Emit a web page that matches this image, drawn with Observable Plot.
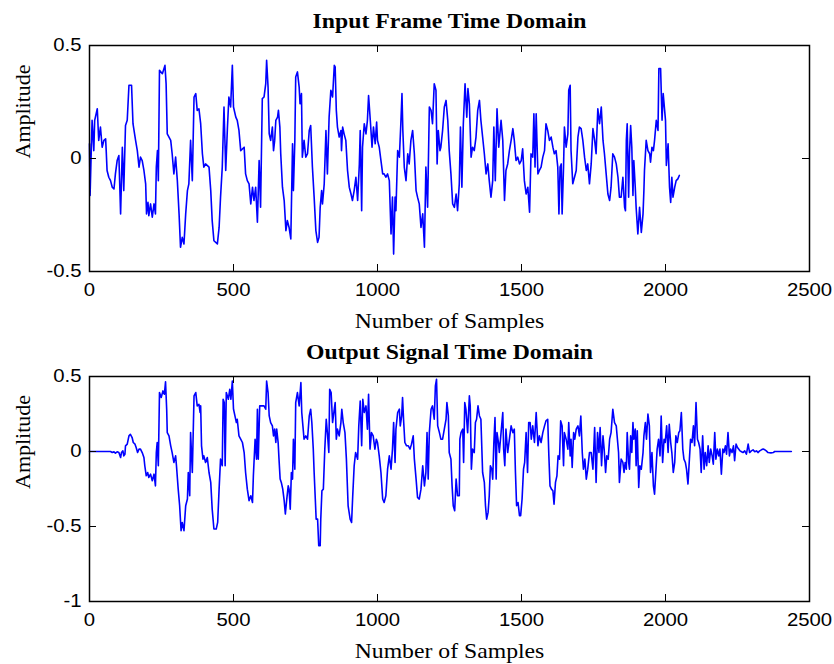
<!DOCTYPE html>
<html><head><meta charset="utf-8">
<script src="https://cdn.jsdelivr.net/npm/d3@7"></script>
<script src="https://cdn.jsdelivr.net/npm/@observablehq/plot@0.6"></script>
<style>
body{margin:0;background:#fff;}
#chart{width:834px;height:664px;position:relative;background:#fff;}
#chart svg{display:block;}
</style></head><body><div id="chart"></div>
<script>
const xTicks = [0, 500, 1000, 1500, 2000, 2500];
const inputYTicks = [-0.5, 0, 0.5];
const outputYTicks = [-1, -0.5, 0, 0.5];
const inputTitle = "Input Frame Time Domain";
const outputTitle = "Output Signal Time Domain";
const xLabel = "Number of Samples";
const yLabel = "Amplitude";

// [sample index, amplitude]
const inputSignal = [
[0,0.065],[2,-0.164],[9,0.169],[15,0.035],[18,0.169],[27,0.220],[32,0.080],[38,0.139],[44,0.050],[50,0.080],
[56,0.087],[58,0.035],[61,-0.053],[67,-0.083],[73,-0.098],[79,-0.127],[85,-0.135],[90,-0.068],[96,-0.009],[102,0.013],
[108,-0.245],[114,0.050],[119,-0.142],[125,0.146],[131,0.169],[137,0.324],[146,0.324],[151,0.154],[160,0.080],[166,0.035],
[172,-0.038],[177,0.006],[183,-0.009],[189,-0.053],[195,-0.112],[198,-0.245],[203,-0.194],[206,-0.253],[212,-0.201],[218,-0.260],
[224,-0.201],[229,-0.245],[232,-0.038],[236,0.035],[239,-0.098],[243,0.390],[253,0.375],[262,0.412],[266,0.331],[270,0.109],
[282,0.080],[287,0.021],[293,-0.068],[299,0.006],[305,-0.098],[311,-0.245],[316,-0.393],[322,-0.349],[328,-0.378],[334,-0.245],
[340,-0.142],[345,-0.112],[351,0.080],[357,-0.098],[363,0.272],[369,0.287],[374,0.213],[380,0.220],[386,0.154],[392,0.021],
[397,-0.038],[403,-0.024],[415,-0.038],[421,-0.142],[426,-0.275],[432,-0.364],[444,-0.378],[450,-0.305],[455,-0.171],[461,-0.038],
[467,0.228],[473,-0.053],[479,0.139],[484,0.272],[490,0.228],[496,0.412],[500,0.228],[508,0.183],[513,0.169],[519,0.124],
[525,0.035],[537,0.050],[542,-0.068],[548,-0.098],[554,-0.112],[560,-0.201],[566,-0.127],[571,-0.186],[577,-0.127],[583,-0.282],
[589,-0.009],[594,-0.216],[600,0.265],[606,0.272],[612,0.331],[615,0.435],[620,0.316],[624,0.109],[629,0.080],[635,0.139],
[639,0.035],[643,0.080],[647,0.169],[653,0.183],[656,0.213],[661,0.139],[664,0.021],[670,-0.127],[676,-0.186],[682,-0.319],
[687,-0.275],[693,-0.305],[699,-0.356],[705,0.065],[708,-0.142],[713,0.080],[716,0.361],[722,0.383],[728,0.316],[731,0.242],
[736,0.287],[739,0.006],[745,0.080],[751,0.006],[757,0.021],[763,0.124],[768,0.146],[774,-0.038],[780,-0.171],[786,-0.319],
[792,-0.371],[797,-0.349],[801,-0.216],[806,-0.142],[809,-0.201],[815,-0.112],[821,0.124],[826,-0.068],[832,0.183],[838,0.302],
[844,0.272],[850,0.412],[853,0.405],[857,0.213],[861,0.139],[867,0.095],[873,0.124],[875,0.035],[879,0.139],[884,0.109],
[890,0.080],[896,-0.053],[902,-0.127],[908,-0.157],[913,-0.186],[919,-0.142],[925,-0.083],[931,-0.186],[937,-0.024],[940,0.124],
[945,-0.231],[948,0.050],[954,0.154],[960,0.109],[965,0.169],[969,0.279],[975,0.169],[981,0.050],[986,0.139],[992,0.065],
[997,0.161],[1000,0.080],[1006,0.050],[1012,-0.009],[1018,-0.068],[1023,-0.068],[1029,-0.083],[1035,-0.068],[1041,-0.098],[1047,-0.334],
[1052,-0.171],[1056,-0.423],[1061,-0.171],[1064,-0.231],[1070,0.035],[1076,0.006],[1081,0.154],[1085,0.287],[1088,0.124],[1093,-0.038],
[1099,-0.098],[1105,0.021],[1110,-0.024],[1116,0.080],[1122,0.124],[1128,0.021],[1134,-0.142],[1139,-0.171],[1145,-0.201],[1151,-0.305],
[1157,-0.245],[1163,-0.393],[1168,-0.038],[1174,-0.216],[1180,0.228],[1186,0.213],[1191,0.154],[1197,0.331],[1203,0.302],[1207,-0.024],
[1211,0.124],[1217,0.035],[1220,0.050],[1226,0.124],[1232,0.228],[1238,0.257],[1244,0.169],[1249,0.035],[1255,-0.068],[1261,-0.201],
[1267,-0.216],[1273,-0.157],[1278,-0.231],[1284,-0.112],[1288,0.139],[1293,-0.127],[1298,0.154],[1304,0.331],[1310,0.183],[1314,0.309],
[1319,0.242],[1325,0.006],[1330,0.050],[1336,0.035],[1342,0.095],[1348,0.213],[1354,0.257],[1359,0.169],[1365,0.095],[1371,0.021],
[1377,-0.068],[1383,-0.024],[1388,-0.098],[1394,-0.171],[1400,-0.098],[1404,0.139],[1409,-0.098],[1415,0.220],[1421,0.050],[1429,0.169],
[1435,0.080],[1441,-0.186],[1446,-0.053],[1452,-0.024],[1458,0.035],[1464,0.080],[1470,0.132],[1475,0.080],[1481,-0.009],[1487,0.006],
[1493,-0.024],[1499,-0.009],[1504,0.043],[1510,-0.098],[1516,-0.157],[1522,-0.127],[1528,-0.238],[1533,0.021],[1539,0.006],[1543,0.198],
[1547,-0.038],[1551,0.198],[1557,-0.068],[1562,-0.053],[1568,-0.038],[1574,0.006],[1580,0.035],[1585,0.154],[1591,0.124],[1597,0.080],
[1603,0.095],[1609,0.050],[1614,0.021],[1620,0.035],[1626,-0.038],[1630,-0.245],[1634,-0.038],[1638,-0.024],[1641,-0.245],[1646,-0.038],
[1649,0.139],[1655,0.050],[1661,0.109],[1664,0.302],[1669,0.324],[1672,0.035],[1678,-0.112],[1684,-0.083],[1690,-0.053],[1696,0.095],
[1701,0.139],[1707,0.132],[1713,0.080],[1719,0.006],[1725,-0.053],[1730,-0.024],[1736,-0.112],[1742,-0.024],[1748,0.132],[1754,0.080],
[1759,0.021],[1765,0.220],[1771,0.154],[1777,0.228],[1783,0.080],[1788,0.021],[1794,-0.068],[1800,-0.157],[1806,-0.186],[1811,-0.127],
[1817,0.021],[1823,0.006],[1829,-0.024],[1835,-0.083],[1840,-0.171],[1846,-0.171],[1852,-0.083],[1858,-0.216],[1861,-0.231],[1864,0.080],
[1867,0.154],[1872,-0.171],[1875,0.021],[1879,0.146],[1883,0.050],[1887,-0.164],[1890,-0.009],[1895,-0.127],[1898,-0.216],[1904,-0.334],
[1910,-0.216],[1916,-0.327],[1922,-0.245],[1925,-0.142],[1927,-0.053],[1933,0.080],[1939,0.035],[1945,0.021],[1948,-0.016],[1953,0.050],
[1958,0.035],[1962,0.080],[1968,0.169],[1974,0.124],[1977,0.398],[1983,0.398],[1988,0.169],[1992,0.287],[1997,0.213],[2000,0.169],
[2003,-0.031],[2009,0.065],[2014,-0.127],[2018,-0.194],[2022,-0.083],[2026,-0.171],[2032,-0.127],[2037,-0.098],[2043,-0.090],[2048,-0.075]
];

const outputSignal = [
[0,0],[73,0],[79,-0.007],[85,-0.002],[90,-0.011],[96,-0.002],[102,-0.007],[108,-0.040],[111,-0.007],[116,0.004],
[119,-0.029],[123,-0.018],[125,0.038],[131,0.049],[137,0.104],[142,0.115],[148,0.093],[152,0.060],[158,0.049],[162,0.027],
[167,-0.007],[172,0.016],[177,0.016],[183,-0.007],[189,-0.040],[192,-0.095],[197,-0.162],[202,-0.140],[206,-0.173],[212,-0.151],
[218,-0.195],[224,-0.151],[229,-0.229],[232,-0.007],[235,0.060],[239,-0.095],[243,0.393],[249,0.360],[255,0.404],[260,0.382],
[264,0.464],[268,0.282],[270,0.126],[276,0.104],[282,0.038],[287,-0.007],[293,-0.073],[299,-0.029],[302,-0.095],[308,-0.251],
[313,-0.362],[318,-0.528],[322,-0.473],[328,-0.528],[334,-0.362],[340,-0.317],[343,-0.140],[348,-0.295],[351,0.126],[357,-0.140],
[363,0.371],[369,0.393],[374,0.304],[380,0.315],[384,0.260],[386,0.304],[389,0.038],[394,-0.051],[397,-0.029],[403,-0.073],
[409,-0.040],[415,-0.140],[421,-0.206],[426,-0.384],[432,-0.517],[440,-0.517],[445,-0.473],[450,-0.251],[455,-0.051],[461,-0.095],
[464,0.348],[468,0.326],[471,-0.095],[475,0.393],[482,0.348],[487,0.415],[491,0.348],[496,0.470],[500,0.282],[505,0.237],
[510,0.193],[513,0.215],[519,0.104],[525,0.082],[531,0.060],[537,-0.007],[542,-0.140],[548,-0.251],[554,-0.328],[560,-0.295],
[566,-0.340],[569,-0.162],[575,0.082],[580,-0.051],[583,0.282],[586,-0.051],[591,0.304],[598,0.304],[606,0.304],[612,0.282],
[615,0.470],[620,0.393],[624,0.237],[629,0.193],[635,0.171],[639,0.104],[643,0.149],[647,0.060],[650,0.149],[655,0.060],
[658,-0.051],[662,-0.184],[666,-0.206],[671,-0.251],[676,-0.328],[680,-0.417],[685,-0.317],[690,-0.229],[693,-0.251],[697,-0.384],
[701,-0.140],[705,-0.184],[708,0.082],[713,-0.118],[716,0.326],[722,0.393],[728,0.304],[734,0.459],[737,0.260],[741,0.171],
[745,0.082],[751,0.104],[757,0.082],[763,0.237],[768,0.282],[772,0.193],[777,0.016],[780,-0.140],[784,-0.317],[787,-0.451],
[792,-0.451],[796,-0.628],[801,-0.628],[803,-0.451],[807,-0.262],[812,-0.251],[817,0.016],[822,0.215],[826,0.126],[831,-0.007],
[834,0.415],[839,0.393],[844,0.193],[850,0.282],[853,0.326],[857,0.082],[861,0.149],[867,0.104],[873,0.193],[876,0.282],
[881,0.193],[887,0.126],[892,-0.051],[898,-0.362],[905,-0.451],[910,-0.473],[914,-0.295],[919,-0.095],[924,-0.007],[931,-0.051],
[935,0.171],[940,0.337],[945,0.038],[949,0.348],[954,0.260],[960,0.304],[965,0.149],[969,0.382],[974,0.016],[979,0.126],
[985,0.104],[991,0.016],[996,0.082],[1000,0.060],[1006,-0.029],[1012,-0.140],[1018,-0.317],[1023,-0.340],[1029,-0.295],[1035,-0.118],
[1041,-0.029],[1047,-0.118],[1052,0.016],[1056,0.193],[1061,-0.073],[1064,0.149],[1070,0.260],[1076,0.282],[1079,0.171],[1084,0.237],
[1087,0.360],[1091,0.193],[1095,0.060],[1101,0.038],[1107,0.038],[1113,0.016],[1118,0.049],[1124,0.104],[1128,-0.051],[1134,-0.184],
[1139,-0.306],[1145,-0.317],[1151,-0.251],[1157,-0.095],[1163,-0.229],[1168,-0.140],[1172,0.126],[1176,-0.184],[1180,0.126],[1186,0.282],
[1191,0.304],[1197,0.215],[1201,0.437],[1205,0.482],[1209,0.171],[1215,0.126],[1220,0.082],[1226,0.082],[1232,0.149],[1238,0.215],
[1241,0.326],[1246,0.237],[1249,-0.007],[1255,-0.051],[1259,-0.229],[1263,-0.362],[1268,-0.395],[1273,-0.184],[1278,-0.295],[1284,-0.295],
[1286,0.082],[1290,0.126],[1296,0.149],[1299,-0.073],[1303,0.326],[1307,0.282],[1313,0.126],[1319,0.371],[1322,0.304],[1326,-0.118],
[1330,0.016],[1336,-0.007],[1340,0.193],[1344,0.215],[1349,0.304],[1354,0.237],[1359,0.215],[1365,-0.140],[1371,-0.206],[1375,-0.362],
[1379,-0.451],[1384,-0.406],[1388,-0.295],[1392,-0.095],[1397,-0.118],[1400,-0.184],[1404,0.060],[1408,0.226],[1412,-0.184],[1415,0.126],
[1420,0.060],[1423,-0.007],[1429,0.126],[1435,0.260],[1438,0.016],[1442,-0.095],[1446,0.149],[1452,-0.007],[1458,0.082],[1464,0.171],
[1470,0.126],[1475,0.149],[1479,-0.140],[1483,-0.362],[1488,-0.340],[1493,-0.428],[1497,-0.428],[1502,-0.317],[1507,-0.118],[1511,-0.073],
[1516,0.126],[1521,-0.140],[1525,0.193],[1530,0.193],[1534,0.082],[1539,0.171],[1545,0.060],[1551,0.260],[1557,0.038],[1562,0.104],
[1568,0.060],[1574,0.126],[1580,0.171],[1585,0.204],[1591,0.215],[1595,-0.029],[1599,-0.229],[1604,-0.251],[1609,-0.262],[1613,-0.351],
[1618,-0.206],[1623,-0.162],[1627,-0.029],[1632,-0.051],[1636,0.204],[1641,0.171],[1646,-0.095],[1649,0.126],[1655,0.082],[1661,0.016],
[1664,0.193],[1669,-0.029],[1672,0.082],[1676,-0.107],[1681,0.126],[1685,0.082],[1690,0.149],[1696,0.171],[1701,0.104],[1706,0.237],
[1711,-0.007],[1715,-0.118],[1720,-0.051],[1725,-0.184],[1730,-0.118],[1736,-0.007],[1742,-0.007],[1748,-0.118],[1754,0.160],[1759,-0.206],
[1764,0.126],[1769,-0.007],[1773,0.160],[1778,-0.095],[1783,0.104],[1787,0.016],[1792,-0.140],[1796,-0.029],[1801,-0.051],[1806,0.082],
[1811,0.126],[1817,0.282],[1823,0.193],[1829,0.171],[1837,-0.007],[1840,-0.206],[1846,-0.051],[1852,-0.073],[1856,-0.140],[1860,-0.073],
[1864,-0.118],[1867,0.126],[1872,-0.073],[1875,-0.118],[1879,0.104],[1883,-0.007],[1887,0.193],[1890,0.082],[1895,0.149],[1898,-0.095],
[1902,0.138],[1907,-0.240],[1911,-0.095],[1916,-0.118],[1922,-0.007],[1925,0.104],[1930,0.193],[1934,0.082],[1939,0.249],[1944,0.171],
[1948,-0.140],[1953,-0.007],[1958,-0.229],[1962,-0.284],[1967,-0.118],[1971,0.016],[1976,0.082],[1981,-0.029],[1985,0.237],[1990,-0.073],
[1995,0.082],[1999,0.060],[2004,0.171],[2009,-0.007],[2013,0.182],[2018,0.060],[2022,-0.007],[2027,-0.140],[2032,-0.073],[2036,0.104],
[2041,0.060],[2046,0.126],[2050,0.138],[2055,0.260],[2060,0.016],[2064,-0.051],[2069,-0.073],[2073,-0.118],[2078,-0.217],[2083,-0.051],
[2087,0.082],[2092,0.060],[2097,0.171],[2101,0.038],[2106,0.326],[2111,0.082],[2115,0.060],[2120,0.016],[2124,-0.140],[2129,0.104],
[2134,-0.118],[2138,-0.007],[2143,-0.095],[2148,0.038],[2152,-0.073],[2157,0.016],[2162,-0.029],[2166,-0.084],[2171,0.126],[2175,-0.051],
[2180,0.016],[2185,-0.029],[2189,0.016],[2194,-0.151],[2199,0.016],[2203,-0.007],[2208,0.038],[2212,-0.018],[2217,0.126],[2222,-0.029],
[2226,0.016],[2231,-0.007],[2236,0.038],[2240,-0.062],[2245,0.049],[2250,0.027],[2254,0.016],[2259,0.004],[2264,-0.002],[2269,-0.007],
[2275,0.004],[2281,-0.018],[2287,0.049],[2292,-0.007],[2298,0.004],[2304,0.011],[2310,-0.002],[2316,0.004],[2321,-0.007],[2327,0.004],
[2333,0.011],[2339,0.016],[2345,0.011],[2350,0.004],[2356,-0.007],[2366,-0.009],[2374,-0.007],[2379,0],[2437,0]
];

const SERIF = "'Liberation Serif', 'Times New Roman', Times, serif";
const SANS = "'Liberation Sans', Arial, Helvetica, sans-serif";
const STRETCH = 1.13;

function panel({signal, yDomain, yTicks, title, marginTop, marginBottom}) {
  const W = 834, H = 332, mL = 89, mR = 25, tick = 7;
  const fw = W - mL - mR, fh = H - marginTop - marginBottom;
  const data = signal.map(([s, a]) => ({s, a}));
  const svg = Plot.plot({
    width: W, height: H,
    marginLeft: mL, marginRight: mR, marginTop, marginBottom,
    style: {fontFamily: SANS, fontSize: "18px", color: "black", background: "white"},
    x: {domain: [0, 2500], ticks: xTicks, label: null},
    y: {domain: yDomain, ticks: yTicks, label: null},
    marks: [
      Plot.line(data, {x: "s", y: "a", stroke: "#0000ff", strokeWidth: 1.6}),
      Plot.tickX(xTicks, {x: d => d, stroke: "black", insetTop: fh - tick}),
      Plot.tickX(xTicks, {x: d => d, stroke: "black", insetBottom: fh - tick}),
      Plot.tickY(yTicks, {y: d => d, stroke: "black", insetRight: fw - tick}),
      Plot.tickY(yTicks, {y: d => d, stroke: "black", insetLeft: fw - tick}),
      Plot.frame({stroke: "black", strokeWidth: 1.5}),
      Plot.axisX(xTicks, {tickSize: 0, tickPadding: 12, tickFormat: d => String(d), fill: "black", fontSize: 18}),
      Plot.axisY(yTicks, {tickSize: 0, tickPadding: 8, tickFormat: d => String(d), fill: "black", fontSize: 18}),
      Plot.text([title], {text: d => d, frameAnchor: "top", dy: -18, lineAnchor: "bottom",
        fontFamily: SERIF, fontWeight: "bold", fontSize: 21, fill: "black"}),
      Plot.text([xLabel], {text: d => d, frameAnchor: "bottom", dy: 56, lineAnchor: "bottom",
        fontFamily: SERIF, fontSize: 21, fill: "black"}),
      Plot.text([yLabel], {text: d => d, frameAnchor: "left", dx: -67, rotate: -90,
        fontFamily: SERIF, fontSize: 22, fill: "black"})
    ]
  });
  // horizontal stretch of the upright texts, as in the reference figure
  svg.querySelectorAll("text").forEach(t => {
    const tr = t.getAttribute("transform");
    if (!tr || tr.includes("rotate")) return;
    t.setAttribute("transform", `${tr} scale(${STRETCH},1)`);
  });
  return svg;
}

const chart = document.getElementById("chart");
chart.append(panel({signal: inputSignal, yDomain: [-0.5, 0.5], yTicks: inputYTicks, title: inputTitle, marginTop: 45, marginBottom: 61}));
chart.append(panel({signal: outputSignal, yDomain: [-1, 0.5], yTicks: outputYTicks, title: outputTitle, marginTop: 44, marginBottom: 63}));
</script></body></html>
